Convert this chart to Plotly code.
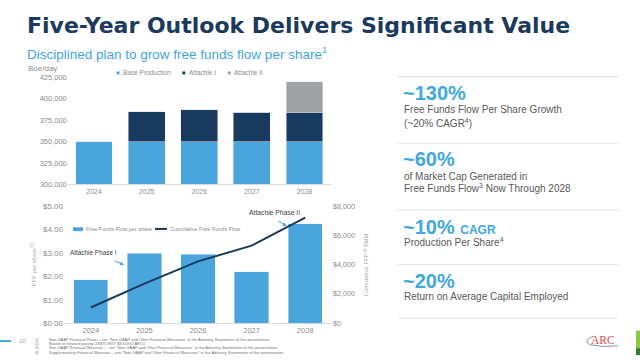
import plotly.graph_objects as go

W, H = 640, 360

# ---------------- data ----------------
years = ["2024", "2025", "2026", "2027", "2028"]
base_production = [350000, 350000, 350000, 350000, 350000]
attachie_1 = [0, 35000, 37000, 34500, 34000]
attachie_2 = [0, 0, 0, 0, 36000]

fff_per_share = [1.85, 2.98, 2.94, 2.19, 4.25]
cumulative_fff = [1070, 2700, 4220, 5300, 7220]

BLUE = "#4AA5DC"
NAVY = "#183A5E"
GREY = "#9FA2A5"
TXT = "#595959"
TICK = "#8C8C8C"
FONT = "Liberation Sans, Arial, sans-serif"


def px(x):
    return x / W


def py(y):
    return 1 - y / H


fig = go.Figure()

# top chart (production)
fig.add_trace(go.Bar(x=years, y=base_production, name="Base Production", marker_color=BLUE,
                     width=0.70, xaxis="x", yaxis="y", showlegend=False))
fig.add_trace(go.Bar(x=years, y=attachie_1, name="Attachie I", marker_color=NAVY,
                     width=0.70, xaxis="x", yaxis="y", showlegend=False))
fig.add_trace(go.Bar(x=years, y=attachie_2, name="Attachie II", marker_color=GREY,
                     width=0.70, xaxis="x", yaxis="y", showlegend=False))

# bottom chart (free funds flow)
fig.add_trace(go.Bar(x=years, y=fff_per_share, name="Free Funds Flow per share", marker_color=BLUE,
                     width=0.64, xaxis="x2", yaxis="y2", showlegend=False))
fig.add_trace(go.Scatter(x=years, y=cumulative_fff, name="Cumulative Free Funds Flow", mode="lines",
                         line=dict(color=NAVY, width=2), xaxis="x2", yaxis="y3", showlegend=False))

axis_common = dict(showgrid=False, zeroline=False, ticks="", fixedrange=True)

fig.update_layout(
    width=W, height=H,
    margin=dict(l=0, r=0, t=0, b=0),
    paper_bgcolor="white", plot_bgcolor="white",
    font=dict(family=FONT, color=TXT),
    barmode="stack",
    xaxis=dict(domain=[px(67.75), px(330.75)], anchor="y", type="category", range=[-0.5, 4.5],
               showline=True, linecolor="#D9D9D9", linewidth=1,
               tickfont=dict(size=7, color=TICK), **axis_common),
    yaxis=dict(domain=[py(185), py(75.3)], anchor="x", range=[300000, 425000], dtick=25000,
               tickformat=",", showline=False, tickfont=dict(size=7.5, color=TICK), **axis_common),
    xaxis2=dict(domain=[px(64), px(332)], anchor="y2", type="category", range=[-0.5, 4.5],
                showline=True, linecolor="#D9D9D9", linewidth=1,
                tickfont=dict(size=7.5, color=TICK), **axis_common),
    yaxis2=dict(domain=[py(327.3), py(207.3)], anchor="x2", range=[0, 5], dtick=1,
                tickprefix="$", tickformat=".2f", showline=False,
                tickfont=dict(size=8, color=TICK), **axis_common),
    yaxis3=dict(domain=[py(327.3), py(207.3)], anchor="x2", overlaying="y2", side="right",
                range=[0, 8000], dtick=2000, tickprefix="$", tickformat=",", showline=False,
                tickfont=dict(size=7.2, color=TICK), **axis_common),
)

ann = []


def text(x, y, s, size, color=TXT, bold=False, xanchor="left", family=FONT, angle=0):
    if bold:
        s = "<b>" + s + "</b>"
    ann.append(dict(x=px(x), y=py(y), xref="paper", yref="paper", text=s, showarrow=False,
                    xanchor=xanchor, yanchor="middle", textangle=angle,
                    font=dict(size=size, color=color, family=family)))


# title and subtitle
text(25, 22, "Five-Year Outlook Delivers Significant Value", 22, color="#1B3A5C", bold=True,
     family="DejaVu Sans, Liberation Sans, sans-serif")
text(25, 50, "Disciplined plan to grow free funds flow per share<sup>1</sup>", 13.5, color="#3FA6DE")

# top chart labels
text(26, 66, "Boe/day", 8, color=TICK)
legend_top = [("Base Production", BLUE, 116.5, 121), ("Attachie I", NAVY, 182.3, 186.7),
              ("Attachie II", GREY, 227.7, 231.7)]
shapes = []
for name, col, sx, tx in legend_top:
    shapes.append(dict(type="rect", xref="paper", yref="paper", x0=px(sx), x1=px(sx + 3),
                       y0=py(72.2), y1=py(69.2), fillcolor=col, line=dict(width=0)))
    text(tx, 70.7, name, 6.5, color=TICK)

# bottom legend
shapes.append(dict(type="rect", xref="paper", yref="paper", x0=px(73), x1=px(83),
                   y0=py(233), y1=py(229), fillcolor=BLUE, line=dict(width=0)))
text(84, 230.9, "Free Funds Flow per share", 5.5, color=TICK)
shapes.append(dict(type="line", xref="paper", yref="paper", x0=px(155), x1=px(167),
                   y0=py(230.7), y1=py(230.7), line=dict(color=NAVY, width=2)))
text(168, 230.9, "Cumulative Free Funds Flow", 5.5, color=TICK)

# axis titles bottom chart
text(33.3, 266.5, "FFF per share<sup>(2)</sup>", 6, color="#A6A6A6", xanchor="center", angle=-90)
text(366, 268, "Cumulative FFF<sup>(3)</sup> $MM", 6, color="#A6A6A6", xanchor="center", angle=-90)

# Attachie annotations
text(68.3, 255, "Attachie Phase I", 6.4, color="#404040")
text(247.3, 214, "Attachie Phase II", 6.75, color="#404040")
for (tx, ty, hx, hy) in [(113, 262.7, 124, 267.7), (276.7, 221.7, 286.7, 227.7)]:
    ann.append(dict(x=px(hx), y=py(hy), xref="paper", yref="paper", ax=tx - hx, ay=ty - hy,
                    axref="pixel", ayref="pixel", text="", showarrow=True, arrowhead=2,
                    arrowsize=0.8, arrowwidth=1, arrowcolor="#4AA5DC"))

# right panel
for yy in [74.3, 142.7, 211.3, 267.3, 322.3]:
    shapes.append(dict(type="line", xref="paper", yref="paper", x0=px(397), x1=px(619),
                       y0=py(yy), y1=py(yy), line=dict(color="#E3E3E3", width=1)))

BIG = "#41A8DE"
text(401, 91.7, "~130%", 20, color=BIG, bold=True)
text(402, 108.3, "Free Funds Flow Per Share Growth", 10)
text(402, 121.7, "(~20% CAGR<sup>4</sup>)", 10)
text(401, 159, "~60%", 20, color=BIG, bold=True)
text(402, 177.3, "of Market Cap Generated in", 10)
text(402, 189, "Free Funds Flow<sup>3</sup> Now Through 2028", 10)
text(401, 228.3, "~10% <span style='font-size:12px'>CAGR</span>", 20, color=BIG, bold=True)
text(402, 244.3, "Production Per Share<sup>4</sup>", 10)
text(401, 284, "~20%", 20, color=BIG, bold=True)
text(402, 300, "Return on Average Capital Employed", 10)

# footer
shapes.append(dict(type="line", xref="paper", yref="paper", x0=px(0), x1=px(11),
                   y0=py(345.7), y1=py(345.7), line=dict(color=BIG, width=2)))
text(16.5, 345.5, "10", 6, color="#A0A0A0")
footnotes = [
    "Non-GAAP Financial Ratio— see \"Non-GAAP and Other Financial Measures\" in the Advisory Statements of this presentation.",
    "Based on forward pricing US$70 WTI; $3.50/GJ AECO",
    "Non-GAAP Financial Measure — see \"Non-GAAP and Other Financial Measures\" in the Advisory Statements of this presentation.",
    "Supplementary Financial Measure— see \"Non-GAAP and Other Financial Measures\" in the Advisory Statements of this presentation.",
]
for i, (fy, ft) in enumerate(zip([343.8, 348.3, 352.8, 357.3], footnotes)):
    text(33, fy, f"{i + 1})", 4, color="#707070")
    text(47, fy, ft, 4, color="#707070")

# ARC logo
text(589, 345, "ARC", 11.5, color="#D9474B", family="Liberation Serif, serif")
p = lambda x, y: f"{px(x):.5f},{py(y):.5f}"
shapes.append(dict(type="path", xref="paper", yref="paper",
                   path=f"M {p(594, 340.5)} Q {p(582, 345)} {p(590, 349.5)} Q {p(603, 352.5)} {p(618, 350.5)}",
                   line=dict(color="#7D93B5", width=1)))

# green corner bar
shapes.append(dict(type="rect", xref="paper", yref="paper", x0=px(636), x1=px(640),
                   y0=py(353), y1=py(335), fillcolor="#8DC63F", line=dict(width=0)))
shapes.append(dict(type="rect", xref="paper", yref="paper", x0=px(636), x1=px(640),
                   y0=py(360), y1=py(353), fillcolor="#2E7D32", line=dict(width=0)))

fig.update_layout(annotations=ann, shapes=shapes)
fig.write_html("out.html",
               config={"displayModeBar": False, "staticPlot": True},
               post_script="document.body.style.margin='0';document.body.style.overflow='hidden';")
